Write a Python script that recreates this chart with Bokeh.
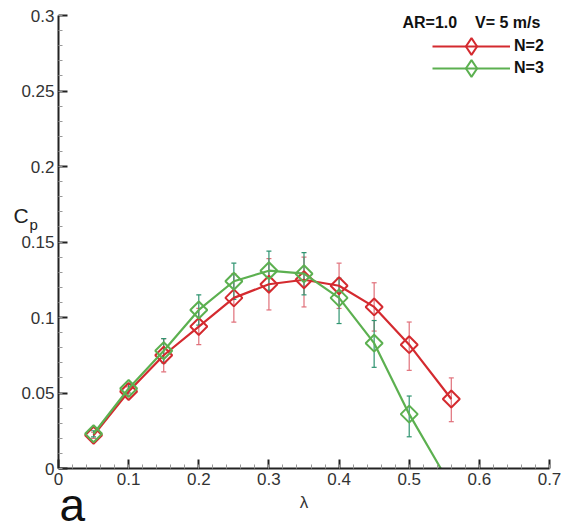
import numpy as np
from bokeh.plotting import figure
from bokeh.models import (Range1d, FixedTicker, CustomJSTickFormatter, Whisker, TeeHead,
                          ColumnDataSource, Legend, LegendItem, Label)
from bokeh.embed import file_html
from bokeh.resources import INLINE

# ---- data ----
lam2 = [0.05, 0.10, 0.15, 0.20, 0.25, 0.30, 0.35, 0.40, 0.45, 0.50, 0.56]
cp2 = [0.022, 0.051, 0.075, 0.094, 0.113, 0.122, 0.125, 0.121, 0.107, 0.082, 0.046]
err2_lo = [0.020, 0.048, 0.064, 0.082, 0.097, 0.105, 0.107, 0.106, 0.091, 0.065, 0.031]
err2_hi = [0.024, 0.054, 0.086, 0.106, 0.129, 0.139, 0.140, 0.136, 0.123, 0.097, 0.060]

lam3 = [0.05, 0.10, 0.15, 0.20, 0.25, 0.30, 0.35, 0.40, 0.45, 0.50]
cp3 = [0.023, 0.053, 0.078, 0.105, 0.124, 0.131, 0.129, 0.113, 0.083, 0.036]
err3_lo = [0.021, 0.050, 0.070, 0.095, 0.112, 0.118, 0.115, 0.096, 0.067, 0.021]
err3_hi = [0.025, 0.056, 0.086, 0.115, 0.136, 0.144, 0.143, 0.126, 0.098, 0.048]

# fitted curve for N=3 runs on past the last point down to the axis
fit3_x = [0.05, 0.10, 0.15, 0.20, 0.25, 0.30, 0.35, 0.40, 0.45, 0.50, 0.545]
fit3_y = [0.023, 0.053, 0.078, 0.105, 0.124, 0.131, 0.129, 0.113, 0.083, 0.036, 0.0]

x_ticks = [0, 0.1, 0.2, 0.3, 0.4, 0.5, 0.6, 0.7]
y_ticks = [0, 0.05, 0.1, 0.15, 0.2, 0.25, 0.3]
x_minor = [round(v, 3) for v in np.arange(0, 0.7001, 0.02)]
y_minor = [round(v, 3) for v in np.arange(0, 0.3001, 0.01)]

legend_title = "AR=1.0\u00a0\u00a0\u00a0\u00a0V= 5 m/s"
labels = ["N=2", "N=3"]

RED = "#d42a2f"
RED_ERR = "#e0707a"
GREEN = "#5cb050"
GREEN_ERR = "#2f9470"
FONT = "Liberation Sans"

# layout: plot box from x=58..549 px and y=15..468 px of a 571x531 canvas;
# the frame covers the whole canvas and the axes are pinned at 0.
W, H = 571, 531
L, R, T, B = 58, 22, 15, 63
XMAX, YMAX = 0.7, 0.3
kx = XMAX / (W - L - R)
ky = YMAX / (H - T - B)

p = figure(width=W, height=H, output_backend="svg", toolbar_location=None,
           x_range=Range1d(-L * kx, XMAX + R * kx), y_range=Range1d(-B * ky, YMAX + T * ky),
           min_border=0)
p.outline_line_color = None
p.grid.visible = False
p.background_fill_color = "white"
p.border_fill_color = "white"

fmt = CustomJSTickFormatter(code="return String(Math.round(tick*1000)/1000);")
for ax, major, minor, top in ((p.xaxis[0], x_ticks, x_minor, XMAX), (p.yaxis[0], y_ticks, y_minor, YMAX)):
    ax.fixed_location = 0
    ax.bounds = (0, top)
    ax.ticker = FixedTicker(ticks=major, minor_ticks=minor)
    ax.formatter = fmt
    ax.axis_line_width = 2
    ax.axis_line_color = "#222222"
    ax.major_tick_in = 9
    ax.major_tick_out = 0
    ax.major_tick_line_width = 2
    ax.major_tick_line_color = "#222222"
    ax.minor_tick_in = 4
    ax.minor_tick_out = 0
    ax.minor_tick_line_color = "#999999"
    ax.major_label_text_font = FONT
    ax.major_label_text_font_size = "17px"
    ax.major_label_text_color = "#333333"
    ax.major_label_standoff = 4

p.xaxis.axis_label = "λ"
p.xaxis.axis_label_text_font = FONT
p.xaxis.axis_label_text_font_style = "normal"
p.xaxis.axis_label_text_font_size = "17px"
p.xaxis.axis_label_standoff = 5
p.xaxis.axis_label_text_color = "#333333"

src2 = ColumnDataSource(dict(x=lam2, y=cp2, lo=err2_lo, hi=err2_hi))
src3 = ColumnDataSource(dict(x=lam3, y=cp3, lo=err3_lo, hi=err3_hi))

def whisker(src, color):
    return Whisker(source=src, base="x", upper="hi", lower="lo", line_color=color, line_width=1.2,
                   upper_head=TeeHead(size=5, line_color=color, line_width=1.2),
                   lower_head=TeeHead(size=5, line_color=color, line_width=1.2))

p.add_layout(whisker(src2, RED_ERR))
l2 = p.line("x", "y", source=src2, line_color=RED, line_width=2.2)
m2 = p.scatter("x", "y", source=src2, marker="square", angle=np.pi / 4, size=12,
               fill_color=None, line_color=RED, line_width=2)
p.add_layout(whisker(src3, GREEN_ERR))
l3 = p.line(fit3_x, fit3_y, line_color=GREEN, line_width=2.2)
m3 = p.scatter("x", "y", source=src3, marker="square", angle=np.pi / 4, size=12,
               fill_color=None, line_color=GREEN, line_width=2)

# legend key markers (legend glyphs are never rotated, so a hidden diamond renderer serves as key)
k2 = p.scatter("x", "y", source=src2, marker="diamond", fill_color=None, line_color=RED,
               line_width=2, visible=False)
k3 = p.scatter("x", "y", source=src3, marker="diamond", fill_color=None, line_color=GREEN,
               line_width=2, visible=False)

for (lab, rl, rk, vy) in ((labels[0], l2, k2, H - 67), (labels[1], l3, k3, H - 89)):
    lg = Legend(items=[LegendItem(label=lab, renderers=[rl, rk])],
                location=(432, vy), padding=0, margin=0, spacing=0,
                glyph_width=78, glyph_height=42, label_height=42, label_standoff=4,
                label_text_font=FONT, label_text_font_size="16px", label_text_font_style="bold",
                label_text_color="#111111", inactive_fill_alpha=0,
                background_fill_alpha=0, border_line_alpha=0)
    p.add_layout(lg)

p.add_layout(Label(x=402, y=H - 30, x_units="screen", y_units="screen", text=legend_title,
                   text_font=FONT, text_font_size="16px", text_font_style="bold", text_color="#111111"))
p.add_layout(Label(x=13, y=H - 226, x_units="screen", y_units="screen", text="C",
                   text_font=FONT, text_font_size="21px", text_color="#222222"))
p.add_layout(Label(x=29, y=H - 232, x_units="screen", y_units="screen", text="p",
                   text_font=FONT, text_font_size="15px", text_color="#222222"))
p.add_layout(Label(x=59, y=1, x_units="screen", y_units="screen", text="a",
                   text_font=FONT, text_font_size="46px", text_color="#111111"))

open("out.html", "w").write(file_html(p, INLINE))
